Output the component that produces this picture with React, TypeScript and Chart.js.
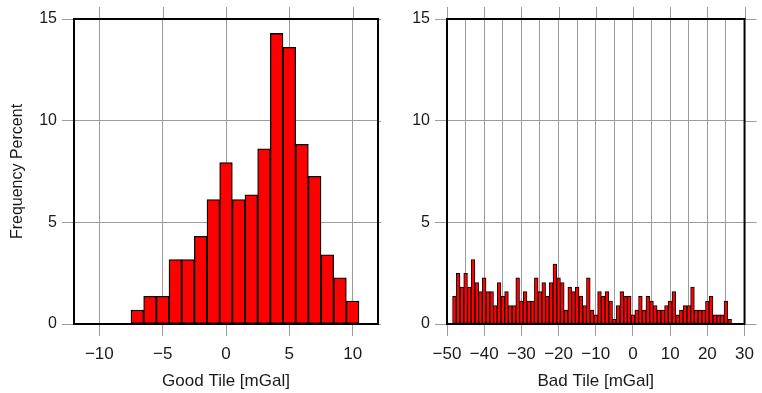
import React, { useEffect, useRef } from "react";
import { Chart, registerables } from "chart.js";

Chart.register(...registerables);

// ---- data ----
const goodTileCenters = [-7, -6, -5, -4, -3, -2, -1, 0, 1, 2, 3, 4, 5, 6, 7, 8, 9, 10];
const goodTilePercent = [0.68, 1.36, 1.36, 3.17, 3.17, 4.31, 6.12, 7.94, 6.12, 6.35, 8.62, 14.29, 13.61, 8.84, 7.26, 3.4, 2.27, 1.13];

const badTileCenters = [
  -48, -47, -46, -45, -44, -43, -42, -41, -40, -39,
  -38, -37, -36, -35, -34, -33, -32, -31, -30, -29,
  -28, -27, -26, -25, -24, -23, -22, -21, -20, -19,
  -18, -17, -16, -15, -14, -13, -12, -11, -10, -9,
  -8, -7, -6, -5, -4, -3, -2, -1, 0, 1,
  2, 3, 4, 5, 6, 7, 8, 9, 10, 11,
  12, 13, 14, 15, 16, 17, 18, 19, 20, 21,
  22, 23, 24, 25, 26,
];
const badTilePercent = [
  1.36, 2.49, 1.81, 2.49, 1.81, 3.17, 2.04, 1.59, 2.27, 1.59,
  1.59, 0.91, 2.04, 1.36, 1.59, 0.91, 0.91, 2.27, 1.13, 1.59,
  1.13, 1.13, 2.27, 1.59, 2.04, 1.36, 2.04, 2.95, 2.27, 2.04,
  0.68, 1.81, 1.59, 1.81, 1.36, 0.91, 2.27, 0.68, 0.45, 1.59,
  1.36, 1.59, 1.13, 0.23, 0.91, 1.59, 1.36, 1.36, 0.45, 0.68,
  1.36, 0.68, 1.36, 1.13, 0.91, 0.68, 0.68, 0.91, 1.13, 1.59,
  0.45, 0.68, 0.91, 0.91, 1.81, 0.68, 0.68, 0.68, 1.13, 1.36,
  0.45, 0.45, 0.45, 1.13, 0.23,
];

const yRange = [0, 15];
const yStep = 5;
const goodXRange = [-12, 12];
const goodXStep = 5;
const badXRange = [-50, 30];
const badGridStep = 5;
const badLabelStep = 10;

const yTitle = "Frequency Percent";
const goodTitle = "Good Tile [mGal]";
const badTitle = "Bad Tile [mGal]";

// ---- style ----
const FONT = "'Liberation Sans', Arial, Helvetica, sans-serif";
const GRID = "#9c9c9c";
const TEXT = "#1a1a1a";
const TICK_LEN = 12;

const fmt = (v: number) => (v < 0 ? "\u2212" + Math.abs(v) : String(v));

const framePlugin = {
  id: "frame",
  afterDatasetsDraw(chart: any, _args: any, opts: any) {
    const { ctx, chartArea: a, scales } = chart;
    const major = opts.major || 1;
    ctx.save();
    ctx.strokeStyle = GRID;
    ctx.lineWidth = 1;
    ctx.beginPath();
    scales.y.ticks.forEach((t: any) => {
      const y = Math.round(scales.y.getPixelForValue(t.value)) + 0.5;
      ctx.moveTo(a.right, y);
      ctx.lineTo(a.right + TICK_LEN, y);
    });
    scales.x.ticks.forEach((t: any) => {
      if (Math.abs(t.value % major) < 1e-9) {
        const x = Math.round(scales.x.getPixelForValue(t.value)) + 0.5;
        ctx.moveTo(x, a.top - TICK_LEN);
        ctx.lineTo(x, a.top);
      }
    });
    ctx.stroke();
    ctx.lineWidth = 2;
    ctx.strokeStyle = "#000";
    ctx.strokeRect(a.left, a.top, a.right - a.left, a.bottom - a.top);
    ctx.restore();
  },
};

function makeConfig(p: {
  centers: number[];
  values: number[];
  xRange: number[];
  xStep: number;
  labelStep: number;
  xTitle: string;
  showYTitle: boolean;
  yWidth: number;
  padRight: number;
  borderWidth: number;
}) {
  return {
    type: "bar",
    data: {
      datasets: [
        {
          data: p.centers.map((c, i) => ({ x: c, y: p.values[i] })),
          backgroundColor: "#ff0000",
          borderColor: "#000000",
          borderWidth: p.borderWidth,
          borderSkipped: false,
          barPercentage: 1,
          categoryPercentage: 1,
        },
      ],
    },
    options: {
      responsive: false,
      animation: false,
      events: [],
      layout: { padding: { top: 19, right: p.padRight, left: 0, bottom: 0 } },
      plugins: {
        legend: { display: false },
        tooltip: { enabled: false },
        frame: { major: p.labelStep },
      },
      scales: {
        x: {
          type: "linear",
          min: p.xRange[0],
          max: p.xRange[1],
          offset: false,
          afterFit: (s: any) => {
            s.height = 69;
          },
          grid: {
            offset: false,
            color: GRID,
            lineWidth: 1,
            tickLength: TICK_LEN,
            tickColor: (ctx: any) =>
              ctx.tick && Math.abs(ctx.tick.value % p.labelStep) < 1e-9 ? GRID : "rgba(0,0,0,0)",
          },
          border: { display: false },
          ticks: {
            stepSize: p.xStep,
            includeBounds: false,
            autoSkip: false,
            maxRotation: 0,
            padding: 8,
            color: TEXT,
            font: { family: FONT, size: 17 },
            callback: (v: number) => (Math.abs(v % p.labelStep) < 1e-9 ? fmt(v) : ""),
          },
          title: {
            display: true,
            text: p.xTitle,
            color: TEXT,
            font: { family: FONT, size: 17 },
            padding: { top: 0, bottom: 1 },
          },
        },
        y: {
          type: "linear",
          min: yRange[0],
          max: yRange[1],
          afterFit: (s: any) => {
            s.width = p.yWidth;
          },
          grid: { color: GRID, lineWidth: 1, tickLength: TICK_LEN, tickColor: GRID },
          border: { display: false },
          ticks: {
            stepSize: yStep,
            padding: 5,
            color: TEXT,
            font: { family: FONT, size: 16 },
            callback: (v: number) => fmt(v),
          },
          title: {
            display: p.showYTitle,
            text: yTitle,
            color: TEXT,
            font: { family: FONT, size: 16 },
            padding: { top: 8, bottom: 0 },
          },
        },
      },
    },
    plugins: [framePlugin],
  } as any;
}

function Panel(props: { config: any; left: number }) {
  const ref = useRef<HTMLCanvasElement | null>(null);
  useEffect(() => {
    if (!ref.current) return;
    const chart = new Chart(ref.current, props.config);
    return () => chart.destroy();
  }, []);
  return (
    <canvas
      ref={ref}
      width={381}
      height={393}
      style={{ position: "absolute", left: props.left, top: 0, width: 381, height: 393, display: "block" }}
    />
  );
}

export default function App() {
  const goodCfg = makeConfig({
    centers: goodTileCenters,
    values: goodTilePercent,
    xRange: goodXRange,
    xStep: goodXStep,
    labelStep: goodXStep,
    xTitle: goodTitle,
    showYTitle: true,
    yWidth: 74,
    padRight: 3,
    borderWidth: 1.3,
  });
  const badCfg = makeConfig({
    centers: badTileCenters,
    values: badTilePercent,
    xRange: badXRange,
    xStep: badGridStep,
    labelStep: badLabelStep,
    xTitle: badTitle,
    showYTitle: false,
    yWidth: 66,
    padRight: 9,
    borderWidth: 1,
  });
  return (
    <div style={{ position: "absolute", left: 0, top: 0, width: 762, height: 393, background: "#fff", overflow: "hidden" }}>
      <Panel config={goodCfg} left={0} />
      <Panel config={badCfg} left={381} />
    </div>
  );
}
